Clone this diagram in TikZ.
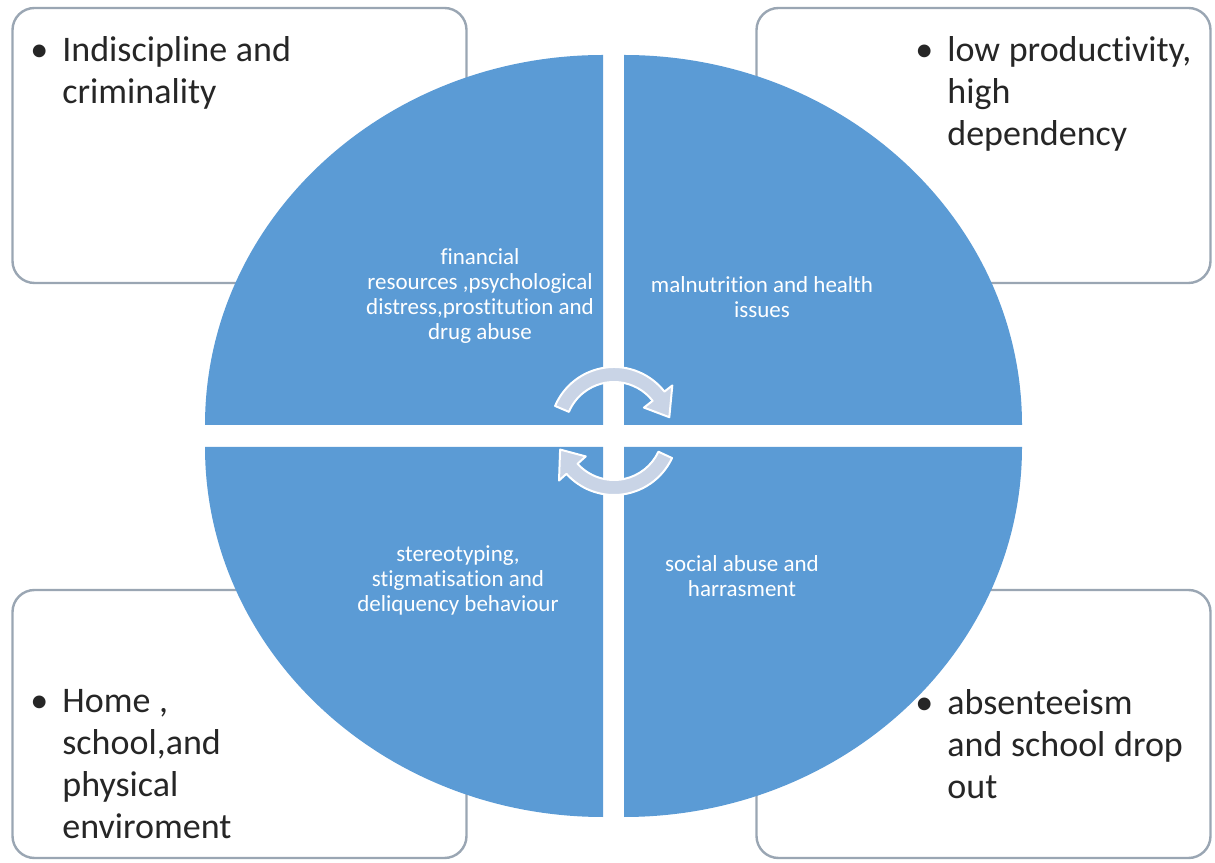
\documentclass[tikz,border=0pt]{standalone}
\usepackage{fontspec}
\setmainfont{Carlito}[Ligatures=NoCommon]
\usepackage{tikz}

\definecolor{quarterblue}{HTML}{5B9BD5}
\definecolor{boxline}{HTML}{9AA6B3}
\definecolor{arrowfill}{HTML}{C9D4E6}

\newcommand{\bulletitem}[1]{\leftskip=16pt\spaceskip=0.24em\hspace*{-16pt}\makebox[16pt][l]{\textbullet}#1\par}

\begin{document}
\begin{tikzpicture}[x=0.5pt, y=0.5pt,
    outerbox/.style={draw=boxline, line width=1.2pt, fill=white, rounded corners=11pt,
      minimum width=227pt, minimum height=137.5pt, inner sep=0pt},
    boxtext/.style={anchor=north west, inner sep=0pt, text width=200pt, align=left,
      font=\fontsize{18}{21}\selectfont, text=black!85},
    quarter/.style={fill=quarterblue},
    innertext/.style={align=center, inner sep=0pt, text=white,
      font=\fontsize{11.5}{12.5}\selectfont},
    cyclearrow/.style={fill=arrowfill, draw=white, line width=1pt, line join=round}]

    \useasboundingbox (0,0) rectangle (1215,862);

    % 四隅の枠
    \node[outerbox] (tlbox) at (239.5,716.5) {};
    \node[outerbox] (trbox) at (983.5,716.5) {};
    \node[outerbox, minimum height=134pt] (blbox) at (239.5,138) {};
    \node[outerbox, minimum height=134pt] (brbox) at (983.5,138) {};

    % 枠の中の文
    \node[boxtext] (crime) at (30,826) {\bulletitem{Indiscipline and\\criminality}};
    \node[boxtext] (depend) at (915,826) {\bulletitem{low productivity,\\high\\dependency}};
    \node[boxtext] (home) at (30,173) {\bulletitem{Home ,\\school,and\\physical\\enviroment}};
    \node[boxtext] (absent) at (915,173) {\bulletitem{absenteeism\\and school drop\\out}};

    % 円の四分割
    \fill[quarter] (603,437) -- (205,437) arc[start angle=180, end angle=90, x radius=398, y radius=370] -- cycle;
    \fill[quarter] (624,437) -- (624,807) arc[start angle=90, end angle=0, x radius=398, y radius=370] -- cycle;
    \fill[quarter] (603,415) -- (603,45) arc[start angle=270, end angle=180, x radius=398, y radius=370] -- cycle;
    \fill[quarter] (624,415) -- (1022,415) arc[start angle=0, end angle=-90, x radius=398, y radius=370] -- cycle;

    % 円の中の文
    \node[innertext] (finance) at (480,566) {financial\\resources ,psychological\\distress,prostitution and\\drug abuse};
    \node[innertext] (health) at (762,565) {malnutrition and health\\issues};
    \node[innertext] (stigma) at (458,282) {stereotyping,\\stigmatisation and\\deliquency behaviour};
    \node[innertext] (abuse) at (742,286) {social abuse and\\harrasment};

    % 循環の矢印
    \begin{scope}[shift={(614,431)}]
      \filldraw[cyclearrow] (157:64) arc[start angle=157, end angle=38, radius=64] -- (38:74) -- (14:57) -- (38:38) -- (38:49) arc[start angle=38, end angle=157, radius=49] -- cycle;
      \filldraw[cyclearrow] (-25:64) arc[start angle=-25, end angle=-138, radius=64] -- (222:74) -- (199:57) -- (222:38) -- (222:49) arc[start angle=222, end angle=335, radius=49] -- cycle;
    \end{scope}
\end{tikzpicture}
\end{document}
